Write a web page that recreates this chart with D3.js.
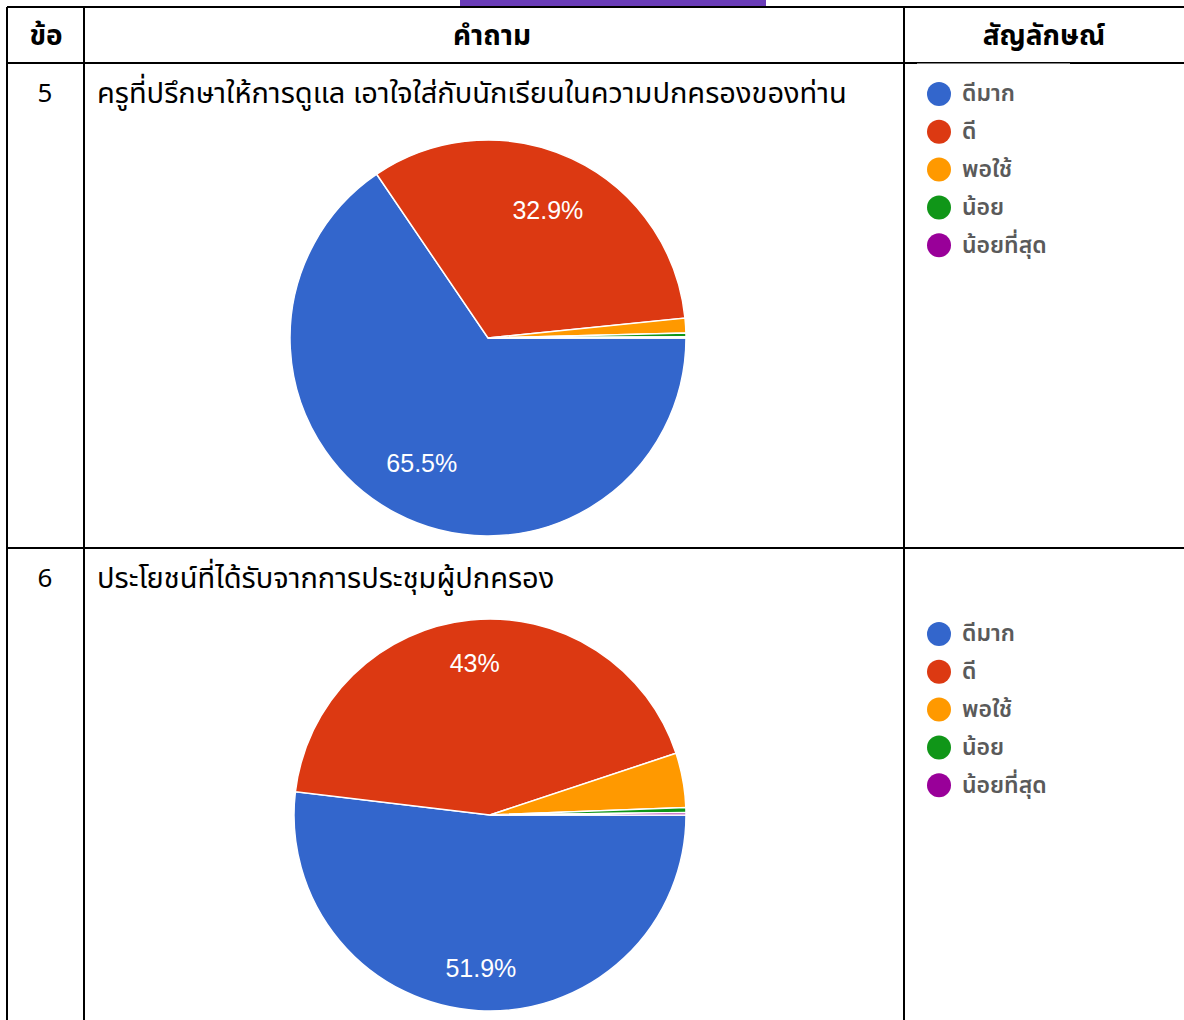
<!DOCTYPE html>
<html>
<head>
<meta charset="utf-8">
<script src="https://cdn.jsdelivr.net/npm/d3@7"></script>
<style>
  body { margin: 0; background: #fff; }
  svg { display: block; }
  .thai { font-family: "Noto Sans Thai", "Leelawadee UI", Tahoma, "Noto Sans", sans-serif; }
</style>
</head>
<body>
<svg id="viz" width="1184" height="1020"></svg>
<script>
// chart values
const headers = ["ข้อ", "คำถาม", "สัญลักษณ์"];
const itemNumbers = ["5", "6"];
const questions = [
    "ครูที่ปรึกษาให้การดูแล เอาใจใส่กับนักเรียนในความปกครองของท่าน",
    "ประโยชน์ที่ได้รับจากการประชุมผู้ปกครอง"
];
const categories = ["ดีมาก", "ดี", "พอใช้", "น้อย", "น้อยที่สุด"];
const q5Values = [65.5, 32.9, 1.2, 0.3, 0.1];
const q6Values = [51.9, 43, 4.5, 0.4, 0.2];

const colors = ["#3366cc", "#dc3912", "#ff9900", "#109618", "#990099"];

const svg = d3.select("#viz");

// layout of the table
const colX = [7, 84, 904, 1184];
const rowY = [7, 63, 548, 1030];
const rows = [
    { values: q5Values, cx: 488, cy: 338, r: 198, labelR: 0.715, legendY: 94 },
    { values: q6Values, cx: 490, cy: 815, r: 196, labelR: 0.78, legendY: 634 }
];

// purple tab above the table
svg.append("rect")
    .attr("x", 460).attr("y", 0)
    .attr("width", 306).attr("height", 7)
    .attr("fill", "#6a3db8");

const color = d3.scaleOrdinal().domain(categories).range(colors);

const pie = d3.pie()
    .sort(null)
    .startAngle(Math.PI / 2)
    .endAngle(Math.PI / 2 + 2 * Math.PI);

rows.forEach((row, i) => {
    const g = svg.append("g").attr("transform", `translate(${row.cx},${row.cy})`);
    const arcs = pie(row.values);
    const arc = d3.arc().innerRadius(0).outerRadius(row.r);
    const labelArc = d3.arc().innerRadius(row.r * row.labelR).outerRadius(row.r * row.labelR);

    g.selectAll("path")
        .data(arcs)
        .join("path")
        .attr("d", arc)
        .attr("fill", (d, k) => color(categories[k]))
        .attr("stroke", "#fff")
        .attr("stroke-width", 1.5);

    g.selectAll("text")
        .data(arcs.filter(d => d.data >= 5))
        .join("text")
        .attr("transform", d => `translate(${labelArc.centroid(d)})`)
        .attr("text-anchor", "middle")
        .attr("dy", "0.36em")
        .attr("fill", "#fff")
        .style("font-family", "Arial, 'Liberation Sans', sans-serif")
        .style("font-size", "25px")
        .text(d => `${d.data}%`);

    // legend
    const leg = svg.append("g")
        .selectAll("g")
        .data(categories)
        .join("g")
        .attr("transform", (d, k) => `translate(939,${row.legendY + k * 37.8})`);

    leg.append("circle")
        .attr("r", 12)
        .attr("fill", d => color(d));

    leg.append("text")
        .attr("class", "thai")
        .attr("x", 23)
        .attr("dy", "0.32em")
        .attr("fill", "#5a5a5a")
        .style("font-size", "23px")
        .style("font-weight", "600")
        .text(d => d);

    // row number and question
    svg.append("text")
        .attr("class", "thai")
        .attr("x", 45)
        .attr("y", rowY[i + 1] + 39)
        .attr("text-anchor", "middle")
        .style("font-size", "26px")
        .text(itemNumbers[i]);

    svg.append("text")
        .attr("class", "thai")
        .attr("x", 97)
        .attr("y", rowY[i + 1] + 40)
        .style("font-size", "29px")
        .text(questions[i]);
});

// header texts
const headerX = [46, 492, 1044];
svg.append("g")
    .selectAll("text")
    .data(headers)
    .join("text")
    .attr("class", "thai")
    .attr("x", (d, i) => headerX[i])
    .attr("y", 45)
    .attr("text-anchor", "middle")
    .style("font-size", "28px")
    .style("font-weight", "bold")
    .text(d => d);

// table grid
const lines = svg.append("g").attr("stroke", "#000").attr("stroke-width", 2);
rowY.slice(0, 3).forEach(y => {
    lines.append("line").attr("x1", colX[0]).attr("x2", colX[3]).attr("y1", y).attr("y2", y);
});
colX.slice(0, 3).forEach(x => {
    lines.append("line").attr("x1", x).attr("x2", x).attr("y1", rowY[0]).attr("y2", rowY[3]);
});

// the legend picture overlaps part of the line under the header
svg.append("rect")
    .attr("x", 917).attr("y", 63.5)
    .attr("width", 153).attr("height", 1.5)
    .attr("fill", "#fff");
</script>
</body>
</html>
